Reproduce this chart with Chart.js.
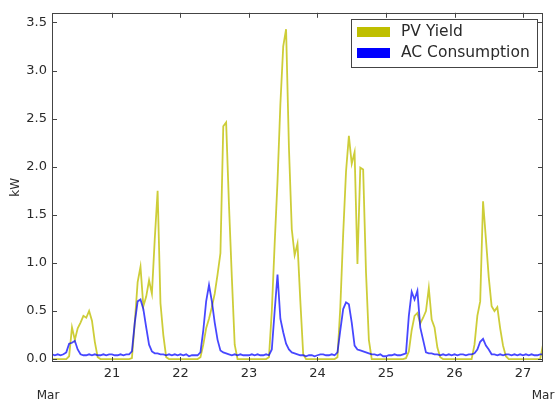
<!DOCTYPE html>
<html>
<head>
<meta charset="utf-8">
<script src="https://cdn.jsdelivr.net/npm/chart.js@4.4.1/dist/chart.umd.min.js"></script>
<style>
html,body{margin:0;padding:0;background:#ffffff;}
#wrap{width:555px;height:401px;position:relative;}
</style>
</head>
<body>
<div id="wrap"><canvas id="c" width="555" height="401"></canvas></div>
<script>
// ---- data (hourly samples, first sample: Mar 20 03:00) ----
const startDay = 20 + 3 / 24;
const seriesNames = ['PV Yield', 'AC Consumption'];
const monthLabel = 'Mar';
const yAxisLabel = 'kW';
const xTickDays = [21, 22, 23, 24, 25, 26, 27];
const yTickValues = [0, 0.5, 1.0, 1.5, 2.0, 2.5, 3.0, 3.5];

// PV Yield (kW) per day
const pv20 = [0,0,0,0,0,0,0.03,0.33,0.2,0.32,0.38,0.45,0.43,0.5,0.4,0.18,0.02,0,0,0,0]; // 03h-23h
const pv21 = [0,0,0,0,0,0,0,0.01,0.38,0.8,0.96,0.55,0.65,0.82,0.68,1.25,1.75,0.58,0.25,0.02,0,0,0,0];
const pv22 = [0,0,0,0,0,0,0,0.02,0.15,0.32,0.42,0.54,0.68,0.88,1.1,2.42,2.46,1.6,0.85,0.15,0,0,0,0];
const pv23 = [0,0,0,0,0,0,0,0.02,0.5,1.2,1.85,2.65,3.25,3.43,2.2,1.35,1.08,1.2,0.6,0.05,0,0,0,0];
const pv24 = [0,0,0,0,0,0,0,0.02,0.54,1.3,1.95,2.32,2.03,2.15,0.99,1.99,1.97,0.9,0.2,0,0,0,0,0];
const pv25 = [0,0,0,0,0,0,0,0.01,0.08,0.3,0.45,0.48,0.37,0.43,0.5,0.74,0.41,0.33,0.12,0.02,0,0,0,0];
const pv26 = [0,0,0,0,0,0,0,0.15,0.45,0.6,1.64,1.25,0.85,0.55,0.5,0.54,0.32,0.14,0.03,0,0,0,0,0];
const pv27 = [0,0,0,0,0,0,0,0.15]; // 00h-07h

// AC Consumption (kW) per day
const ac20 = [0.05,0.04,0.05,0.04,0.05,0.07,0.16,0.17,0.19,0.1,0.05,0.04,0.04,0.05,0.04,0.05,0.04,0.04,0.05,0.04,0.05];
const ac21 = [0.05,0.04,0.04,0.05,0.04,0.05,0.05,0.08,0.38,0.6,0.62,0.52,0.33,0.15,0.08,0.06,0.06,0.05,0.05,0.04,0.05,0.04,0.05,0.04];
const ac22 = [0.05,0.04,0.05,0.03,0.04,0.04,0.04,0.07,0.3,0.6,0.77,0.6,0.38,0.2,0.09,0.07,0.06,0.05,0.04,0.05,0.04,0.05,0.04,0.04];
const ac23 = [0.04,0.05,0.04,0.05,0.04,0.04,0.05,0.04,0.1,0.5,0.88,0.42,0.28,0.16,0.1,0.07,0.06,0.05,0.04,0.04,0.03,0.04,0.04,0.03];
const ac24 = [0.04,0.05,0.05,0.04,0.04,0.05,0.04,0.07,0.3,0.52,0.59,0.57,0.38,0.14,0.1,0.09,0.08,0.07,0.06,0.05,0.05,0.04,0.05,0.03];
const ac25 = [0.03,0.04,0.04,0.05,0.04,0.04,0.05,0.06,0.45,0.7,0.62,0.71,0.33,0.2,0.07,0.06,0.06,0.05,0.05,0.04,0.05,0.04,0.05,0.04];
const ac26 = [0.05,0.04,0.05,0.05,0.04,0.05,0.05,0.06,0.1,0.18,0.21,0.14,0.1,0.05,0.05,0.04,0.05,0.04,0.05,0.05,0.04,0.05,0.04,0.05];
const ac27 = [0.04,0.05,0.04,0.05,0.04,0.04,0.05,0.05];

const pvValues = [].concat(pv20, pv21, pv22, pv23, pv24, pv25, pv26, pv27);
const acValues = [].concat(ac20, ac21, ac22, ac23, ac24, ac25, ac26, ac27);
const times = pvValues.map((_, i) => startDay + i / 24);

const pvColor = 'rgba(191,191,0,0.78)';
const acColor = 'rgba(0,0,255,0.72)';
const pvSwatch = '#bfbf00';
const acSwatch = '#0000ff';
const textColor = '#2a2a2a';
const frameColor = '#444444';
const fontFamily = '"DejaVu Sans", "Liberation Sans", sans-serif';

const framePlugin = {
  id: 'frame',
  afterDatasetsDraw(chart) {
    const ctx = chart.ctx;
    const a = chart.chartArea;
    const xs = chart.scales.x, ys = chart.scales.y;
    ctx.save();
    ctx.strokeStyle = frameColor;
    ctx.lineWidth = 1;
    ctx.strokeRect(Math.round(a.left) + 0.5, Math.round(a.top) + 0.5,
                   Math.round(a.right - a.left) - 1, Math.round(a.bottom - a.top) - 1);
    ctx.beginPath();
    const tl = 5;
    xTickDays.forEach(d => {
      const px = Math.round(xs.getPixelForValue(d)) + 0.5;
      ctx.moveTo(px, a.bottom); ctx.lineTo(px, a.bottom - tl);
      ctx.moveTo(px, a.top); ctx.lineTo(px, a.top + tl);
    });
    yTickValues.forEach(v => {
      const py = Math.round(ys.getPixelForValue(v)) + 0.5;
      ctx.moveTo(a.left, py); ctx.lineTo(a.left + tl, py);
      ctx.moveTo(a.right, py); ctx.lineTo(a.right - tl, py);
    });
    ctx.stroke();

    // legend
    const lx = 351, ly = 19, lw = 186, lh = 48;
    ctx.fillStyle = '#ffffff';
    ctx.fillRect(lx, ly, lw, lh);
    ctx.strokeStyle = frameColor;
    ctx.strokeRect(lx + 0.5, ly + 0.5, lw, lh);
    const swatches = [pvSwatch, acSwatch];
    ctx.font = '15.5px ' + fontFamily;
    ctx.textBaseline = 'middle';
    ctx.textAlign = 'left';
    seriesNames.forEach((name, i) => {
      const cy = 32 + i * 21;
      ctx.fillStyle = swatches[i];
      ctx.fillRect(357, cy - 5, 33, 10);
      ctx.fillStyle = textColor;
      ctx.fillText(name, 401, cy);
    });

    // month labels
    ctx.font = '12px ' + fontFamily;
    ctx.textAlign = 'center';
    ctx.textBaseline = 'middle';
    ctx.fillStyle = textColor;
    ctx.fillText(monthLabel, a.left - 4, 396);
    ctx.fillText(monthLabel, a.right, 396);
    ctx.restore();
  }
};

new Chart(document.getElementById('c'), {
  type: 'line',
  data: {
    datasets: [
      {
        label: seriesNames[0],
        data: times.map((t, i) => ({x: t, y: pvValues[i]})),
        borderColor: pvColor,
        backgroundColor: pvSwatch,
        borderWidth: 1.8,
        pointRadius: 0,
        tension: 0,
        fill: false,
        order: 2
      },
      {
        label: seriesNames[1],
        data: times.map((t, i) => ({x: t, y: acValues[i]})),
        borderColor: acColor,
        backgroundColor: acSwatch,
        borderWidth: 1.8,
        pointRadius: 0,
        tension: 0,
        fill: false,
        order: 1
      }
    ]
  },
  options: {
    responsive: false,
    animation: false,
    devicePixelRatio: 1,
    layout: {padding: {top: 12, right: 12, left: 0, bottom: 0}},
    plugins: {legend: {display: false}, tooltip: {enabled: false}},
    scales: {
      x: {
        type: 'linear',
        min: startDay,
        max: 27 + 7 / 24,
        grid: {display: false, drawTicks: false},
        border: {display: false},
        afterFit(s) { s.height = 39; },
        afterBuildTicks(s) { s.ticks = xTickDays.map(v => ({value: v})); },
        ticks: {
          padding: 4,
          color: textColor,
          font: {family: fontFamily, size: 13},
          maxRotation: 0,
          autoSkip: false,
          callback: v => String(v)
        }
      },
      y: {
        type: 'linear',
        min: -0.03,
        max: 3.6,
        grid: {display: false, drawTicks: false},
        border: {display: false},
        afterFit(s) { s.width = 52; },
        afterBuildTicks(s) { s.ticks = yTickValues.map(v => ({value: v})); },
        title: {
          display: true,
          text: yAxisLabel,
          color: textColor,
          font: {family: fontFamily, size: 12},
          padding: {top: 9, bottom: 0}
        },
        ticks: {
          padding: 5,
          color: textColor,
          font: {family: fontFamily, size: 13},
          autoSkip: false,
          callback: v => Number(v).toFixed(1)
        }
      }
    }
  },
  plugins: [framePlugin]
});
</script>
</body>
</html>
